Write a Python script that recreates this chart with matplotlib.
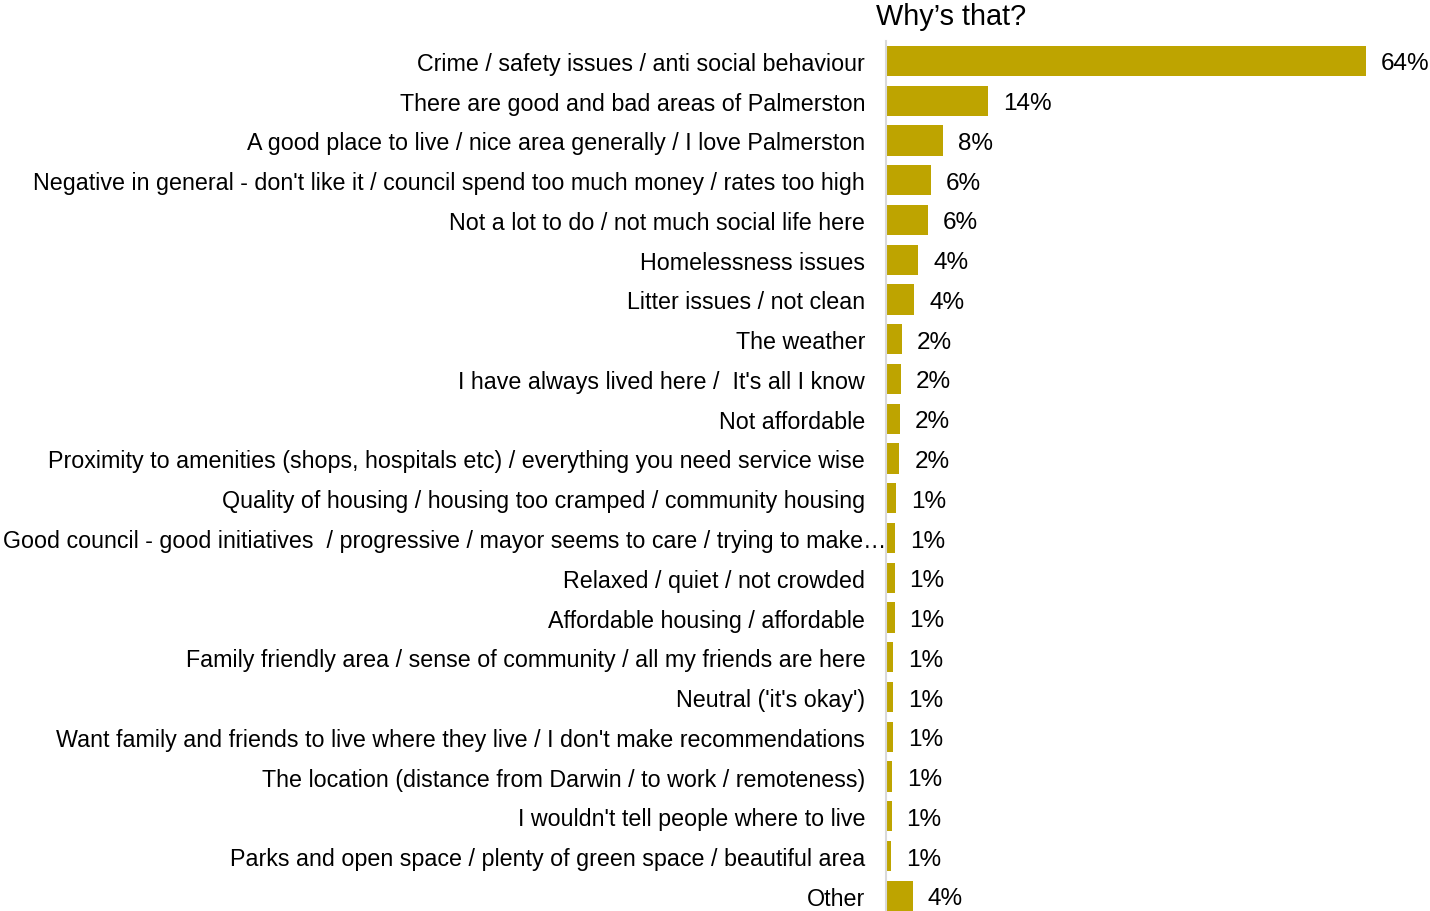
import matplotlib
matplotlib.use("Agg")
import matplotlib.pyplot as plt
from matplotlib.transforms import ScaledTranslation

plt.rcParams['font.family'] = ['Liberation Sans', 'DejaVu Sans']

categories = [
    "Crime / safety issues / anti social behaviour",
    "There are good and bad areas of Palmerston",
    "A good place to live / nice area generally / I love Palmerston",
    "Negative in general - don't like it / council spend too much money / rates too high",
    "Not a lot to do / not much social life here",
    "Homelessness issues",
    "Litter issues / not clean",
    "The weather",
    "I have always lived here /  It's all I know",
    "Not affordable",
    "Proximity to amenities (shops, hospitals etc) / everything you need service wise",
    "Quality of housing / housing too cramped / community housing",
    "Good council - good initiatives  / progressive / mayor seems to care / trying to make\u2026",
    "Relaxed / quiet / not crowded",
    "Affordable housing / affordable",
    "Family friendly area / sense of community / all my friends are here",
    "Neutral ('it's okay')",
    "Want family and friends to live where they live / I don't make recommendations",
    "The location (distance from Darwin / to work / remoteness)",
    "I wouldn't tell people where to live",
    "Parks and open space / plenty of green space / beautiful area",
    "Other",
]
values = [64.0, 13.6, 7.6, 6.0, 5.6, 4.3, 3.8, 2.1, 2.0, 1.9, 1.8,
          1.3, 1.2, 1.15, 1.15, 1.0, 0.93, 0.9, 0.8, 0.75, 0.67, 3.6]

title = "Why\u2019s that?"
bar_color = "#BEA400"

W, H = 1430, 912
fig = plt.figure(figsize=(W / 100, H / 100), dpi=100)
ax = fig.add_axes([886 / W, 0, (W - 886) / W, (912 - 42) / H])

y = list(range(len(categories)))
ax.barh(y, values, height=0.76, color=bar_color, zorder=2)

ax.set_ylim(-0.5 + 870 / 39.76, -0.5)
ax.set_xlim(0, 64 * 544 / 480)

ax.set_yticks(y)
ax.set_yticklabels(categories, fontsize=16.75, color="#000000")
ax.tick_params(axis="y", length=0, pad=15)
ax.set_xticks([])

for side in ("top", "right", "bottom"):
    ax.spines[side].set_visible(False)
ax.spines["left"].set_color("#D9D9D9")
ax.spines["left"].set_linewidth(1.5)

# The truncated label overruns the common right edge
long_lbl = ax.get_yticklabels()[12]
long_lbl.set_transform(long_lbl.get_transform() + ScaledTranslation(21 / 100, 0, fig.dpi_scale_trans))

for yi, v in zip(y, values):
    ax.annotate(f"{round(v):.0f}%", (v, yi), xytext=(15, 0), textcoords="offset pixels",
                va="center_baseline", ha="left", fontsize=17.5, color="#000000")

fig.text(876 / W, 1 - 17 / H, title, fontsize=20.8, ha="left", va="center", color="#000000")

fig.savefig("out.png", dpi=100)
